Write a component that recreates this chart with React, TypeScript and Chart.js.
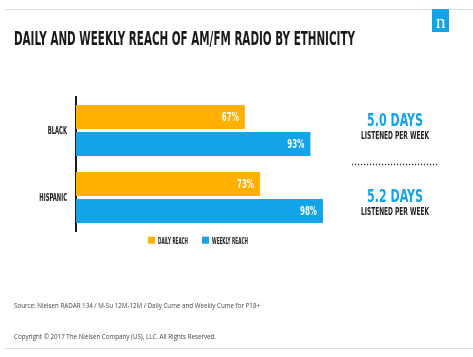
import React, { useEffect, useRef } from 'react';
import { Chart, registerables } from 'chart.js';

Chart.register(...registerables);

const categories = ['BLACK', 'HISPANIC'];
const dailyReach = [67, 73];
const weeklyReach = [93, 98];
const seriesNames = ['DAILY REACH', 'WEEKLY REACH'];
const seriesColors = ['#FFB000', '#12A3E8'];
const daysListened = ['5.0 DAYS', '5.2 DAYS'];
const daysCaption = 'LISTENED PER WEEK';
const titleText = 'DAILY AND WEEKLY REACH OF AM/FM RADIO BY ETHNICITY';
const sourceText = 'Source: Nielsen RADAR 134 / M-Su 12M-12M / Daily Cume and Weekly Cume for P18+';
const copyrightText = 'Copyright \u00A9 2017 The Nielsen Company (US), LLC. All Rights Reserved.';

const COND = '"DejaVu Sans Condensed", "Liberation Sans Narrow", "DejaVu Sans", sans-serif';

function drawText(
  ctx: CanvasRenderingContext2D,
  text: string,
  x: number,
  y: number,
  font: string,
  color: string,
  align: 'left' | 'right' | 'center',
  opts: { width?: number; sx?: number } = {}
) {
  ctx.save();
  ctx.font = font;
  ctx.fillStyle = color;
  ctx.textBaseline = 'alphabetic';
  ctx.textAlign = 'left';
  const w = ctx.measureText(text).width;
  const sx = opts.width ? opts.width / w : opts.sx ?? 1;
  const tw = w * sx;
  const left = align === 'left' ? x : align === 'right' ? x - tw : x - tw / 2;
  ctx.translate(left, y);
  ctx.scale(sx, 1);
  ctx.fillText(text, 0, 0);
  ctx.restore();
}

const decorPlugin = {
  id: 'decor',
  afterDraw(chart: any) {
    const ctx: CanvasRenderingContext2D = chart.ctx;
    const area = chart.chartArea;

    // frame lines
    ctx.save();
    ctx.strokeStyle = '#dddddd';
    ctx.lineWidth = 1;
    ctx.beginPath();
    ctx.moveTo(4, 9.5);
    ctx.lineTo(473, 9.5);
    ctx.moveTo(4, 348.5);
    ctx.lineTo(473, 348.5);
    ctx.stroke();
    ctx.restore();

    // logo
    ctx.save();
    ctx.fillStyle = '#12A3E2';
    ctx.fillRect(432, 9, 17, 23);
    ctx.restore();
    drawText(ctx, 'n', 440.7, 27.5, '19px "Liberation Serif", "DejaVu Serif", serif', '#ffffff', 'center');

    // title
    drawText(ctx, titleText, 14, 44.7, 'bold 20px ' + COND, '#1a1a1a', 'left', { width: 341 });

    // category labels
    const yScale = chart.scales.y;
    categories.forEach((c, i) => {
      const py = yScale.getPixelForValue(i);
      drawText(ctx, c, 67, py + 3.6, 'bold 10.5px ' + COND, '#1a1a1a', 'right', { sx: 0.555 });
    });

    // value labels
    chart.data.datasets.forEach((ds: any, di: number) => {
      const meta = chart.getDatasetMeta(di);
      meta.data.forEach((bar: any, i: number) => {
        drawText(ctx, ds.data[i] + '%', bar.x - 6, bar.y + 4.3, 'bold 12px ' + COND, '#ffffff', 'right', { width: 17 });
      });
    });

    // legend
    const legendTextW = [30, 36];
    const itemsW: number[] = chart.data.datasets.map((ds: any, di: number) => 7 + 3 + legendTextW[di]);
    const totalW = itemsW.reduce((a, b) => a + b, 0) + 14 * (itemsW.length - 1);
    let lx = (area.left + area.right) / 2 - 4 - totalW / 2;
    chart.data.datasets.forEach((ds: any, di: number) => {
      ctx.save();
      ctx.fillStyle = ds.backgroundColor;
      ctx.fillRect(lx, 236.7, 7, 7);
      ctx.restore();
      drawText(ctx, ds.label, lx + 10, 243.5, 'bold 8px ' + COND, '#222222', 'left', { width: legendTextW[di] });
      lx += itemsW[di] + 14;
    });

    // right panel
    const cx = 395;
    const bases = [126, 202];
    daysListened.forEach((d, i) => {
      drawText(ctx, d, cx, bases[i], 'bold 18px ' + COND, '#12A3E8', 'center', { width: 56 });
      drawText(ctx, daysCaption, cx, bases[i] + 13.3, 'bold 10px ' + COND, '#222222', 'center', { width: 68 });
    });
    ctx.save();
    ctx.strokeStyle = '#333333';
    ctx.lineWidth = 1.3;
    ctx.setLineDash([1.2, 1.8]);
    ctx.beginPath();
    ctx.moveTo(352, 164.5);
    ctx.lineTo(438, 164.5);
    ctx.stroke();
    ctx.restore();

    // footer
    drawText(ctx, sourceText, 14, 307.5, '7.8px "Open Sans", "Noto Sans", sans-serif', '#444444', 'left', { width: 246 });
    drawText(ctx, copyrightText, 14, 338.5, '7.8px "Open Sans", "Noto Sans", sans-serif', '#444444', 'left', { width: 202 });
  },
};

export default function App() {
  const ref = useRef<HTMLCanvasElement>(null);
  useEffect(() => {
    if (!ref.current) return;
    const chart = new Chart(ref.current, {
      type: 'bar',
      data: {
        labels: categories,
        datasets: [
          { label: seriesNames[0], data: dailyReach, backgroundColor: seriesColors[0] },
          { label: seriesNames[1], data: weeklyReach, backgroundColor: seriesColors[1] },
        ],
      },
      options: {
        indexAxis: 'y',
        responsive: false,
        animation: false,
        devicePixelRatio: 1,
        layout: { padding: { left: 0, right: 145, top: 97, bottom: 126 } },
        categoryPercentage: 0.806,
        barPercentage: 0.889,
        scales: {
          x: { min: 0, max: 100, display: false },
          y: {
            grid: { display: false },
            border: { display: true, color: '#1a1a1a', width: 2 },
            ticks: { display: false },
            afterFit: (s: any) => {
              s.width = 76;
            },
          },
        },
        plugins: {
          legend: { display: false },
          tooltip: { enabled: false },
        },
      } as any,
      plugins: [decorPlugin],
    });
    return () => chart.destroy();
  }, []);
  return (
    <div style={{ position: 'fixed', left: 0, top: 0, width: 473, height: 357, background: '#fff' }}>
      <canvas ref={ref} width={473} height={357} style={{ width: 473, height: 357, display: 'block' }} />
    </div>
  );
}
